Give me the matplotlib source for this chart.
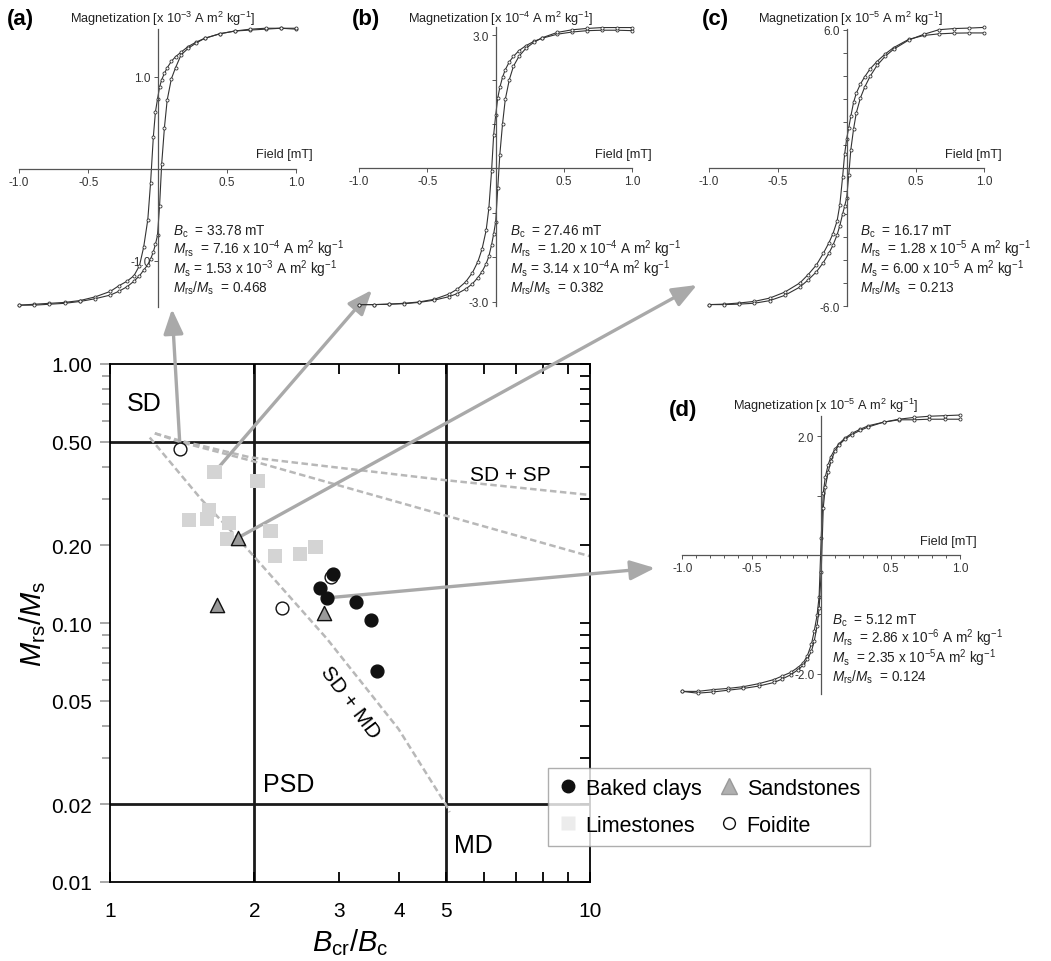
import matplotlib
matplotlib.use('Agg')
import matplotlib.pyplot as plt
from matplotlib.lines import Line2D
from matplotlib.ticker import NullFormatter

plt.rcParams['font.family'] = ['Liberation Sans', 'DejaVu Sans']
plt.rcParams['mathtext.fontset'] = 'custom'
plt.rcParams['mathtext.rm'] = 'Liberation Sans'
plt.rcParams['mathtext.it'] = 'Liberation Sans:italic'

# ---- Day plot data (Bcr/Bc, Mrs/Ms) ----
baked_x = [2.92, 2.74, 2.83, 3.25, 3.50, 3.60]
baked_y = [0.154, 0.137, 0.125, 0.120, 0.103, 0.065]
lime_x = [1.65, 2.03, 1.46, 1.59, 1.61, 1.77, 1.75, 2.16, 2.21, 2.49, 2.68]
lime_y = [0.382, 0.354, 0.250, 0.252, 0.274, 0.243, 0.211, 0.227, 0.181, 0.185, 0.196]
sand_x = [1.845, 1.67, 2.79]
sand_y = [0.213, 0.117, 0.109]
foid_x = [1.40, 2.28, 2.89]
foid_y = [0.468, 0.114, 0.150]

# mixing curves
sdmd_x = [1.21, 1.55, 1.84, 2.83, 3.99, 5.0, 5.1]
sdmd_y = [0.52, 0.30, 0.214, 0.087, 0.039, 0.020, 0.0186]
sdsp1_x = [1.24, 1.40, 1.96, 5.0, 9.85]
sdsp1_y = [0.54, 0.506, 0.436, 0.356, 0.313]
sdsp2_x = [1.24, 1.40, 2.0, 5.0, 10.0]
sdsp2_y = [0.54, 0.50, 0.42, 0.26, 0.181]

xt_major = [1, 2, 3, 4, 5, 10]
xt_labels = ['1', '2', '3', '4', '5', '10']
xt_minor = [6, 7, 8, 9]
yt_major = [0.01, 0.02, 0.05, 0.1, 0.2, 0.5, 1.0]
yt_labels = ['0.01', '0.02', '0.05', '0.10', '0.20', '0.50', '1.00']
yt_minor = [0.03, 0.04, 0.06, 0.07, 0.08, 0.09, 0.3, 0.4, 0.6, 0.7, 0.8, 0.9]

# ---- hysteresis loops (field, descending and ascending branches) ----
field = [1.0, 0.89, 0.78, 0.67, 0.56, 0.45, 0.34, 0.28, 0.22, 0.17, 0.13, 0.10,
         0.07, 0.05, 0.03, 0.015, 0.0, -0.015, -0.03, -0.05, -0.07, -0.10, -0.13,
         -0.17, -0.22, -0.28, -0.34, -0.45, -0.56, -0.67, -0.78, -0.89, -1.0]
field_up = field[::-1]

a_down = [1.52, 1.53, 1.52, 1.51, 1.50, 1.47, 1.42, 1.38, 1.33, 1.27, 1.22, 1.17,
          1.10, 1.04, 0.97, 0.89, 0.76, 0.62, 0.35, -0.15, -0.55, -0.85, -1.05,
          -1.16, -1.22, -1.27, -1.33, -1.39, -1.43, -1.45, -1.46, -1.47, -1.48]
a_up = [-1.48, -1.48, -1.47, -1.46, -1.44, -1.41, -1.37, -1.33, -1.28, -1.22, -1.16,
        -1.10, -1.04, -0.98, -0.90, -0.82, -0.72, -0.40, 0.05, 0.45, 0.75, 0.98,
        1.10, 1.24, 1.31, 1.37, 1.42, 1.47, 1.50, 1.52, 1.53, 1.53, 1.53]
b_down = [3.10, 3.11, 3.11, 3.10, 3.07, 3.02, 2.93, 2.86, 2.76, 2.65, 2.52, 2.40,
          2.22, 2.05, 1.82, 1.58, 1.20, 0.75, -0.05, -0.90, -1.40, -1.82, -2.10,
          -2.35, -2.56, -2.72, -2.83, -2.95, -3.01, -3.04, -3.06, -3.07, -3.07]
b_up = [-3.07, -3.07, -3.06, -3.05, -3.02, -2.97, -2.89, -2.82, -2.72, -2.60, -2.46,
        -2.33, -2.15, -1.98, -1.72, -1.48, -1.20, -0.45, 0.30, 1.00, 1.55, 2.00,
        2.30, 2.52, 2.70, 2.84, 2.94, 3.06, 3.12, 3.15, 3.17, 3.17, 3.17]
c_down = [5.86, 5.86, 5.85, 5.82, 5.75, 5.58, 5.22, 4.95, 4.62, 4.30, 3.95, 3.65,
          3.25, 2.85, 2.25, 1.75, 1.28, 0.60, -0.40, -1.60, -2.30, -2.85, -3.25,
          -3.70, -4.20, -4.62, -4.98, -5.38, -5.64, -5.78, -5.85, -5.90, -5.92]
c_up = [-5.92, -5.92, -5.90, -5.86, -5.75, -5.52, -5.16, -4.85, -4.50, -4.10, -3.70,
        -3.35, -2.90, -2.50, -2.00, -1.65, -1.28, -0.30, 0.80, 1.70, 2.40, 3.05,
        3.50, 3.98, 4.45, 4.85, 5.15, 5.55, 5.80, 6.00, 6.05, 6.07, 6.10]
d_down = [2.29, 2.29, 2.29, 2.28, 2.28, 2.24, 2.18, 2.12, 2.05, 1.97, 1.88, 1.79,
          1.66, 1.52, 1.32, 1.05, 0.29, -0.70, -1.02, -1.28, -1.50, -1.70, -1.82,
          -1.90, -1.98, -2.04, -2.10, -2.17, -2.22, -2.25, -2.27, -2.30, -2.30]
d_up = [-2.30, -2.33, -2.31, -2.28, -2.25, -2.21, -2.15, -2.09, -2.02, -1.94, -1.86,
        -1.76, -1.62, -1.45, -1.20, -0.90, -0.29, 0.80, 1.15, 1.40, 1.58, 1.76,
        1.86, 1.95, 2.03, 2.10, 2.16, 2.24, 2.29, 2.32, 2.34, 2.35, 2.36]

field_ticks = [-1.0, -0.5, 0.5, 1.0]
field_labels = ['-1.0', '-0.5', '0.5', '1.0']
a_yticks, a_ylabels = [-1, 1], ['-1.0', '1.0']
b_yticks, b_ylabels = [-3, -2, -1, 1, 2, 3], ['-3.0', '', '', '', '', '3.0']
c_yticks = [-6, -5, -4, -3, -2, -1, 1, 2, 3, 4, 5, 6]
c_ylabels = ['-6.0', '', '', '', '', '', '', '', '', '', '', '6.0']
d_yticks, d_ylabels = [-2, -1, 1, 2], ['-2.0', '', '', '2.0']

a_text = [r'$B_{\rm c}$  = 33.78 mT',
          r'$M_{\rm rs}$  = 7.16 x 10$^{-4}$ A m$^2$ kg$^{-1}$',
          r'$M_{\rm s}$ = 1.53 x 10$^{-3}$ A m$^2$ kg$^{-1}$',
          r'$M_{\rm rs}/M_{\rm s}$  = 0.468']
b_text = [r'$B_{\rm c}$  = 27.46 mT',
          r'$M_{\rm rs}$  = 1.20 x 10$^{-4}$ A m$^2$ kg$^{-1}$',
          r'$M_{\rm s}$ = 3.14 x 10$^{-4}$A m$^2$ kg$^{-1}$',
          r'$M_{\rm rs}/M_{\rm s}$  = 0.382']
c_text = [r'$B_{\rm c}$  = 16.17 mT',
          r'$M_{\rm rs}$  = 1.28 x 10$^{-5}$ A m$^2$ kg$^{-1}$',
          r'$M_{\rm s}$ = 6.00 x 10$^{-5}$ A m$^2$ kg$^{-1}$',
          r'$M_{\rm rs}/M_{\rm s}$  = 0.213']
d_text = [r'$B_{\rm c}$  = 5.12 mT',
          r'$M_{\rm rs}$  = 2.86 x 10$^{-6}$ A m$^2$ kg$^{-1}$',
          r'$M_{\rm s}$  = 2.35 x 10$^{-5}$A m$^2$ kg$^{-1}$',
          r'$M_{\rm rs}/M_{\rm s}$  = 0.124']

W, H = 1051, 962
fig = plt.figure(figsize=(W / 100, H / 100), dpi=100)


def fpos(x, y):
    """image pixel -> figure fraction"""
    return x / W, 1 - y / H


# ---------------- main Day plot ----------------
L, R, T, B = 110, 590, 365, 883
ax = fig.add_axes([L / W, 1 - B / H, (R - L) / W, (B - T) / H])
ax.set_xscale('log')
ax.set_yscale('log')
ax.set_xlim(1, 10)
ax.set_ylim(0.01, 1.0)

for v in [0.5, 0.02]:
    ax.axhline(v, color='#1a1a1a', lw=2, zorder=1.5)
for v in [2, 5]:
    ax.axvline(v, color='#1a1a1a', lw=2, zorder=1.5)

dash = dict(color='#b8b8b8', lw=1.8, ls=(0, (2.6, 1.4)), zorder=2)
ax.plot(sdmd_x, sdmd_y, clip_on=False, **dash)
ax.plot(sdsp1_x, sdsp1_y, **dash)
ax.plot(sdsp2_x, sdsp2_y, **dash)

ax.scatter(lime_x, lime_y, marker='s', s=105, c='#d4d4d4', edgecolors='none', zorder=4)
ax.scatter(foid_x, foid_y, marker='o', s=85, c='white', edgecolors='#111', lw=1, zorder=5)
ax.scatter(sand_x, sand_y, marker='^', s=105, c='#9a9a9a', edgecolors='#111', lw=1, zorder=6)
ax.scatter(baked_x, baked_y, marker='o', s=85, c='#111', edgecolors='#111', zorder=7)

ax.text(1.085, 0.71, 'SD', fontsize=18, va='center', ha='left')
ax.text(5.63, 0.376, 'SD + SP', fontsize=15, va='center', ha='left')
ax.text(3.16, 0.0495, 'SD + MD', fontsize=15, va='center', ha='center',
        rotation=-53, rotation_mode='anchor')
ax.text(2.08, 0.0239, 'PSD', fontsize=18, va='center', ha='left')
ax.text(5.2, 0.0139, 'MD', fontsize=18, va='center', ha='left')

ax.set_xticks(xt_major)
ax.set_xticklabels(xt_labels)
ax.set_xticks(xt_minor, minor=True)
ax.xaxis.set_minor_formatter(NullFormatter())
ax.set_yticks(yt_major)
ax.set_yticklabels(yt_labels)
ax.set_yticks(yt_minor, minor=True)
ax.yaxis.set_minor_formatter(NullFormatter())
ax.tick_params(axis='x', which='both', direction='in', top=True, labelsize=15,
               pad=14, length=7, width=1.3)
ax.tick_params(axis='y', which='major', direction='out', length=7, color='#a0a0a0',
               width=1.3, labelsize=15, pad=6)
ax.tick_params(axis='y', which='minor', direction='out', length=6, color='#a0a0a0', width=1.3)
for s in ax.spines.values():
    s.set_linewidth(1.3)

twin = ax.twinx()
twin.set_yscale('log')
twin.set_ylim(0.01, 1.0)
twin.set_yticks(yt_major)
twin.set_yticks(yt_minor, minor=True)
twin.yaxis.set_major_formatter(NullFormatter())
twin.yaxis.set_minor_formatter(NullFormatter())
twin.tick_params(axis='y', which='both', direction='in', length=7, width=1.3)
twin.patch.set_visible(False)
for s in twin.spines.values():
    s.set_visible(False)

ax.set_xlabel(r'$B_{\rm cr}/B_{\rm c}$', fontsize=21)
ax.xaxis.set_label_coords(0.5, -0.085)
ax.set_ylabel(r'$M_{\rm rs}/M_{\rm s}$', fontsize=21)
ax.yaxis.set_label_coords(-0.13, 0.5)

# arrows from samples to the loops (tips in figure pixels)
arrow_src = [(1.40, 0.468), (1.65, 0.382), (1.845, 0.213), (2.83, 0.125)]
arrow_tip = [(172, 310), (372, 291), (697, 286), (655, 569)]
for (sx, sy), (tx, ty) in zip(arrow_src, arrow_tip):
    ax.annotate('', xy=(tx, H - ty), xycoords='figure pixels',
                xytext=(sx, sy), textcoords='data', annotation_clip=False,
                arrowprops=dict(arrowstyle='-|>,head_length=1.5,head_width=0.6',
                                color='#a9a9a9', lw=2.4, shrinkA=0, shrinkB=0),
                zorder=3)

handles = [
    Line2D([], [], ls='none', marker='o', ms=9, mfc='#111', mec='#111'),
    Line2D([], [], ls='none', marker='s', ms=10, mfc='#ececec', mec='none'),
    Line2D([], [], ls='none', marker='^', ms=11, mfc='#b0b0b0', mec='#999'),
    Line2D([], [], ls='none', marker='o', ms=8.5, mfc='white', mec='#111'),
]
leg = fig.legend(handles, ['Baked clays', 'Limestones', 'Sandstones', 'Foidite'],
                 ncol=2, loc='upper left', bbox_to_anchor=fpos(548, 769),
                 borderaxespad=0, fontsize=15.5, frameon=True, fancybox=False,
                 edgecolor='#9a9a9a', borderpad=0.45, handletextpad=0.3,
                 columnspacing=0.8, labelspacing=0.75, handlelength=1.0)
leg.get_frame().set_linewidth(1.0)


# ---------------- hysteresis insets ----------------
def inset(cx, cy, sx, sy, ylim, down, up, yt, ytl, minor_x=False):
    xlim = (-1.0, 1.0)
    left = cx + xlim[0] * sx
    right = cx + xlim[1] * sx
    top = cy - ylim[1] * sy
    bot = cy - ylim[0] * sy
    ia = fig.add_axes([left / W, 1 - bot / H, (right - left) / W, (bot - top) / H])
    ia.set_xlim(xlim)
    ia.set_ylim(ylim)
    ia.patch.set_visible(False)
    style = dict(color='#333333', lw=0.8, marker='o', ms=2.2, mfc='white',
                 mec='#333333', mew=0.6, clip_on=False)
    ia.plot(field, down, **style)
    ia.plot(field_up, up, **style)
    ia.spines['left'].set_position(('data', 0))
    ia.spines['bottom'].set_position(('data', 0))
    ia.spines['top'].set_visible(False)
    ia.spines['right'].set_visible(False)
    for s in ['left', 'bottom']:
        ia.spines[s].set_color('#555555')
        ia.spines[s].set_linewidth(0.9)
    ia.set_xticks(field_ticks)
    ia.set_xticklabels(field_labels)
    if minor_x:
        ia.set_xticks([-0.9, -0.8, -0.7, -0.6, -0.4, -0.3, -0.2, -0.1,
                       0.1, 0.2, 0.3, 0.4, 0.6, 0.7, 0.8, 0.9], minor=True)
    ia.set_yticks(yt)
    ia.set_yticklabels(ytl)
    ia.tick_params(which='both', direction='out', length=3, width=0.7, color='#555555',
                   labelsize=8.5, labelcolor='#333333', pad=2)
    ia.tick_params(which='minor', length=2)
    return ia


inset(157.5, 170, 138.5, 92, (-1.50, 1.52), a_down, a_up, a_yticks, a_ylabels)
inset(495.7, 169.3, 136.7, 44.4, (-3.10, 3.18), b_down, b_up, b_yticks, b_ylabels)
inset(846.7, 169.3, 137.7, 23.1, (-5.98, 6.02), c_down, c_up, c_yticks, c_ylabels)
inset(821.2, 556, 138.8, 59.3, (-2.34, 2.34), d_down, d_up, d_yticks, d_ylabels,
      minor_x=True)

# inset labels: (tag, tag x, tag y, header x, header y, exponent, field x, field y,
#                text x, text top y, text lines)
insets_txt = [
    ('(a)', 7, 20, 70, 19, '-3', 313, 155, 173, 224, a_text),
    ('(b)', 352, 20, 408, 19, '-4', 652, 155, 510, 224, b_text),
    ('(c)', 702, 20, 758, 19, '-5', 1002, 155, 860, 224, c_text),
    ('(d)', 669, 411, 733, 406, '-5', 977, 542, 832, 613, d_text),
]
for tag, tx, ty, hx, hy, ex, fx, fy, bx, by, lines in insets_txt:
    fig.text(*fpos(tx, ty), tag, fontsize=16, fontweight='bold', va='center', ha='left')
    fig.text(*fpos(hx, hy),
             'Magnetization [x 10$^{' + ex + '}$ A m$^2$ kg$^{-1}$]',
             fontsize=9.2, va='center', ha='left', color='#222222')
    fig.text(*fpos(fx, fy), 'Field [mT]', fontsize=9.2, va='center', ha='right',
             color='#222222')
    fig.text(*fpos(bx, by), '\n'.join(lines), fontsize=9.8, va='top', ha='left',
             color='#222222', linespacing=0.9)

fig.savefig('out.png', dpi=100)
